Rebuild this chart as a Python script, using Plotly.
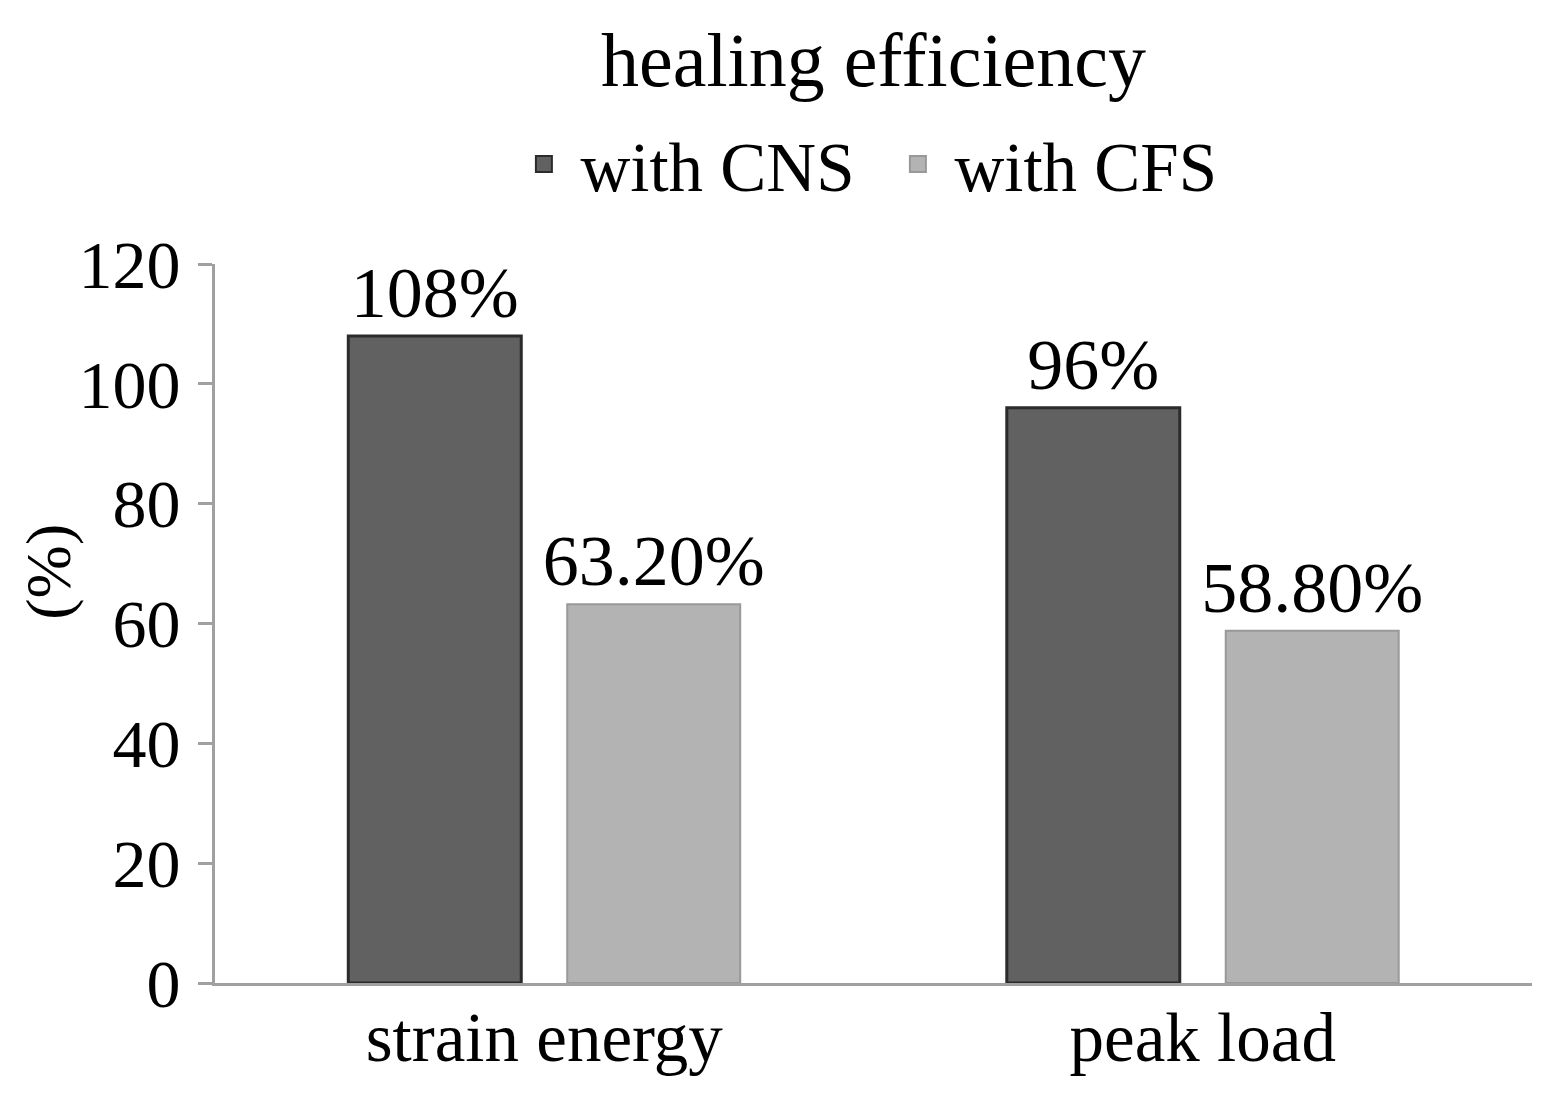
import plotly.graph_objects as go

categories = ["strain energy", "peak load"]
cns_values = [108, 96]
cfs_values = [63.2, 58.8]
cns_labels = ["108%", "96%"]
cfs_labels = ["63.20%", "58.80%"]
y_ticks = [0, 20, 40, 60, 80, 100, 120]

FONT = "Liberation Serif, Times New Roman, serif"
CNS_FILL, CNS_LINE = "#616161", "#2b2b2b"
CFS_FILL, CFS_LINE = "#b3b3b3", "#999999"

fig = go.Figure()
fig.add_trace(go.Bar(
    name="with CNS", x=categories, y=cns_values, text=cns_labels,
    textposition="outside", cliponaxis=False, showlegend=False,
    constraintext="none",
    textfont=dict(family=FONT, size=72, color="black"),
    marker=dict(color=CNS_FILL, line=dict(color=CNS_LINE, width=3)),
))
fig.add_trace(go.Bar(
    name="with CFS", x=categories, y=cfs_values, text=cfs_labels,
    textposition="outside", cliponaxis=False, showlegend=False,
    constraintext="none",
    textfont=dict(family=FONT, size=72, color="black"),
    marker=dict(color=CFS_FILL, line=dict(color=CFS_LINE, width=2)),
))
# legend entries (square swatches)
for name, fill, line in [("with CNS", CNS_FILL, CNS_LINE), ("with CFS", CFS_FILL, CFS_LINE)]:
    fig.add_trace(go.Scatter(
        x=[None], y=[None], mode="markers", name=name,
        marker=dict(symbol="square", size=18, color=fill, line=dict(color=line, width=2)),
    ))

fig.update_layout(
    width=1554, height=1101,
    paper_bgcolor="white", plot_bgcolor="white",
    font=dict(family=FONT, color="black"),
    margin=dict(l=207, r=30, t=256, b=126),
    barmode="group", bargap=0.335, bargroupgap=0.21,
    title=dict(text="healing efficiency", xref="paper", x=0.5, xanchor="center",
               y=0.953, yanchor="middle",
               font=dict(family=FONT, size=76, color="black")),
    legend=dict(orientation="h", x=0.506, xanchor="center", y=1.139, yanchor="middle",
                font=dict(family=FONT, size=69, color="black"),
                entrywidth=296, entrywidthmode="pixels", itemwidth=63,
                itemsizing="trace", traceorder="normal"),
    showlegend=True,
    annotations=[dict(text="(%)", textangle=-90, xref="paper", yref="paper",
                      x=0, y=0.572, xanchor="center", yanchor="middle",
                      xshift=-166, showarrow=False,
                      font=dict(family=FONT, size=64, color="black"))],
)
fig.update_xaxes(
    showline=True, linecolor="#a0a0a0", linewidth=3,
    ticks="", showgrid=False, ticklabelstandoff=-8,
    tickfont=dict(family=FONT, size=69, color="black"),
)
fig.update_yaxes(
    range=[0, 120], tickvals=y_ticks,
    showline=True, linecolor="#a0a0a0", linewidth=3,
    ticks="outside", ticklen=14, tickwidth=3, tickcolor="#a0a0a0",
    ticklabelstandoff=4,
    showgrid=False, zeroline=False,
    tickfont=dict(family=FONT, size=68, color="black"),
)

fig.write_html("out.html")
